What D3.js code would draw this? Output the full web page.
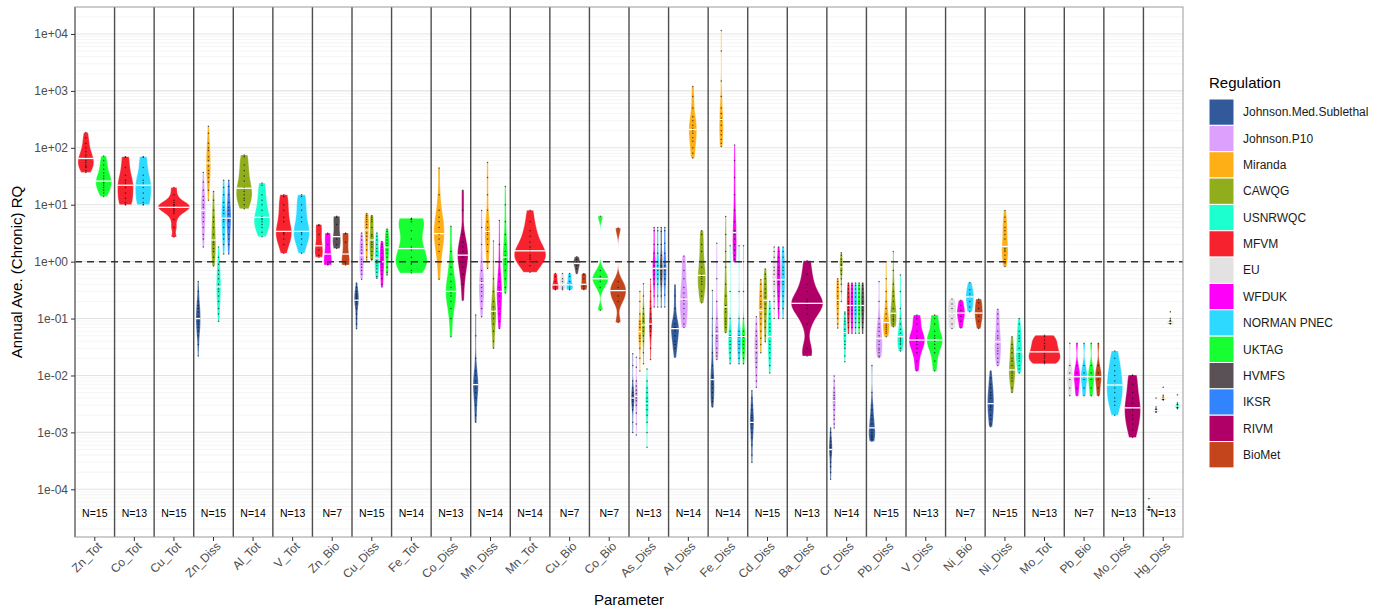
<!DOCTYPE html>
<html>
<head>
<meta charset="utf-8">
<script src="https://cdn.jsdelivr.net/npm/d3@7"></script>
<style>
  body { margin: 0; background: #fff; }
  text { font-family: "Liberation Sans", Arial, sans-serif; }
</style>
</head>
<body>
<script>
// Regulations (legend order) and their colours
const regulations = ["Johnson.Med.Sublethal", "Johnson.P10", "Miranda", "CAWQG", "USNRWQC", "MFVM", "EU",
                     "WFDUK", "NORMAN PNEC", "UKTAG", "HVMFS", "IKSR", "RIVM", "BioMet"];
const regColors = ["#325A9B", "#DEA0FD", "#FEAF16", "#90AD1C", "#1CFFCE", "#F6222E", "#E4E1E3",
                   "#FE00FA", "#2ED9FF", "#16FF32", "#5A5156", "#3283FE", "#B00068", "#C4451C"];

// Parameters on the x axis and number of sites
const categories = ["Zn_Tot", "Co_Tot", "Cu_Tot", "Zn_Diss", "Al_Tot", "V_Tot", "Zn_Bio", "Cu_Diss", "Fe_Tot",
                    "Co_Diss", "Mn_Diss", "Mn_Tot", "Cu_Bio", "Co_Bio", "As_Diss", "Al_Diss", "Fe_Diss", "Cd_Diss",
                    "Ba_Diss", "Cr_Diss", "Pb_Diss", "V_Diss", "Ni_Bio", "Ni_Diss", "Mo_Tot", "Pb_Bio", "Mo_Diss", "Hg_Diss"];
const sampleCounts = [15, 13, 15, 15, 14, 13, 7, 15, 14, 13, 14, 14, 7, 7, 13, 14, 14, 15, 13, 14, 15, 13, 7, 15, 13, 7, 13, 13];

const yTickValues = [1e-4, 1e-3, 1e-2, 1e-1, 1, 1e1, 1e2, 1e3, 1e4];
const yTickLabels = ["1e-04", "1e-03", "1e-02", "1e-01", "1e+00", "1e+01", "1e+02", "1e+03", "1e+04"];

// RQ values per parameter : [regulation, values]
const znTot = [
  ["MFVM", [185, 150, 120, 100, 85, 75, 68, 65, 60, 55, 50, 47, 45, 40, 37]],
  ["UKTAG", [72, 60, 50, 42, 36, 32, 29, 26, 25, 24, 22, 20, 18, 16, 14]]];
const coTot = [
  ["MFVM", [70, 68, 45, 33, 27, 24, 22, 20, 16, 13, 11, 10, 10]],
  ["NORMAN PNEC", [70, 68, 45, 33, 27, 24, 22, 20, 16, 13, 11, 10, 10]]];
const cuTot = [
  ["MFVM", [20, 15, 12, 11, 10, 10, 9.5, 9, 8.5, 8, 7.5, 7, 5.5, 4, 2.7]]];
const znDiss = [
  ["Johnson.Med.Sublethal", [0.45, 0.3, 0.2, 0.17, 0.15, 0.13, 0.11, 0.1, 0.09, 0.08, 0.07, 0.06, 0.05, 0.035, 0.022]],
  ["Johnson.P10", [37, 25, 18, 14, 12, 10, 9, 8, 7, 6, 5, 4, 3, 2.5, 1.8]],
  ["Miranda", [240, 180, 120, 100, 90, 70, 60, 54, 48, 40, 35, 30, 25, 18, 12]],
  ["CAWQG", [17, 12, 8, 6, 5, 4, 3, 2.4, 2.2, 2, 1.7, 1.5, 1.2, 1, 0.84]],
  ["USNRWQC", [1.8, 1.2, 0.9, 0.7, 0.6, 0.5, 0.4, 0.36, 0.33, 0.3, 0.25, 0.2, 0.15, 0.12, 0.09]],
  ["NORMAN PNEC", [27, 20, 15, 11, 9, 8, 7, 5.8, 5.5, 5, 4, 3, 2.5, 2, 1.36]],
  ["IKSR", [27, 21, 15, 11, 9, 8, 6.8, 5.8, 5.4, 5, 4, 3, 2.5, 2, 1.36]]];
const alTot = [
  ["CAWQG", [75, 70, 50, 40, 32, 26, 20, 19, 17, 15, 13, 12, 10, 8.5]],
  ["USNRWQC", [24, 22, 15, 12, 10, 8, 6.2, 5.8, 5.5, 5, 4.5, 4, 3.3, 2.75]]];
const vTot = [
  ["MFVM", [15, 14, 10, 8, 6, 5, 3.4, 3.3, 3.2, 3, 2.5, 2, 1.4]],
  ["NORMAN PNEC", [15, 14, 10, 8, 6, 5, 3.4, 3.3, 3.2, 3, 2.5, 2, 1.4]]];
const znBio = [
  ["MFVM", [4.5, 4.3, 3, 1.9, 1.6, 1.3, 1.2]],
  ["WFDUK", [3.2, 3, 2, 1.36, 1, 0.9, 0.87]],
  ["HVMFS", [6.3, 6, 4.5, 2.75, 2.5, 2, 1.7]],
  ["BioMet", [3.2, 3.1, 2.2, 1.36, 1.0, 0.95, 0.87]]];
const cuDiss = [
  ["Johnson.Med.Sublethal", [0.42, 0.35, 0.3, 0.27, 0.25, 0.23, 0.22, 0.21, 0.2, 0.18, 0.15, 0.12, 0.1, 0.08, 0.066]],
  ["Johnson.P10", [3.2, 2.8, 2.4, 2, 1.8, 1.6, 1.4, 1.3, 1.1, 1, 0.9, 0.8, 0.7, 0.6, 0.49]],
  ["Miranda", [7, 6.5, 6, 5.5, 5, 4.5, 4, 3.6, 3.2, 2.8, 2.4, 2, 1.6, 1.2, 1.07]],
  ["CAWQG", [6.5, 6, 5.5, 5, 4, 3, 2.8, 2.4, 2.2, 2, 1.8, 1.5, 1.3, 1.1, 1.07]],
  ["USNRWQC", [3.2, 2.8, 2.4, 2, 1.7, 1.5, 1.3, 1.15, 1.05, 0.95, 0.85, 0.75, 0.65, 0.55, 0.51]],
  ["WFDUK", [2.25, 2, 1.8, 1.6, 1.4, 1.2, 1.1, 1, 0.9, 0.8, 0.7, 0.6, 0.5, 0.4, 0.36]],
  ["UKTAG", [3.75, 3.4, 3, 2.7, 2.4, 2.1, 1.9, 1.8, 1.6, 1.4, 1.2, 1, 0.8, 0.65, 0.58]]];
const feTot = [
  ["UKTAG", [5.8, 5.6, 5.5, 5, 3.5, 2.5, 1.8, 1.6, 1.2, 1.0, 0.95, 0.9, 0.7, 0.63]]];
const coDiss = [
  ["Miranda", [44, 15, 8, 6, 5, 4, 3.1, 3, 2.5, 2, 1.5, 1, 0.49]],
  ["UKTAG", [4.2, 1.5, 0.8, 0.6, 0.45, 0.35, 0.3, 0.28, 0.25, 0.2, 0.15, 0.1, 0.048]],
  ["RIVM", [18, 8, 3, 2.2, 1.8, 1.5, 1.3, 1.2, 1, 0.8, 0.6, 0.4, 0.21]]];
const mnDiss = [
  ["Johnson.Med.Sublethal", [0.115, 0.05, 0.02, 0.012, 0.01, 0.008, 0.007, 0.0068, 0.006, 0.005, 0.004, 0.003, 0.002, 0.0015]],
  ["Johnson.P10", [7.9, 4, 2, 1, 0.7, 0.5, 0.45, 0.4, 0.35, 0.3, 0.25, 0.2, 0.15, 0.108]],
  ["Miranda", [55, 30, 15, 8, 5, 4, 3.5, 3.3, 3, 2.5, 2, 1.5, 1, 0.76]],
  ["CAWQG", [2.3, 1, 0.5, 0.3, 0.2, 0.16, 0.14, 0.13, 0.12, 0.1, 0.08, 0.06, 0.04, 0.03]],
  ["WFDUK", [5.3, 2, 1, 0.6, 0.45, 0.35, 0.31, 0.29, 0.25, 0.2, 0.15, 0.12, 0.09, 0.067]],
  ["UKTAG", [21, 10, 5, 3, 2, 1.5, 1.3, 1.1, 1.0, 0.9, 0.7, 0.5, 0.35, 0.28]]];
const mnTot = [
  ["MFVM", [8, 5, 3.5, 2.8, 2.2, 1.8, 1.6, 1.5, 1.3, 1.2, 1.1, 1, 0.85, 0.65]]];
const cuBio = [
  ["MFVM", [0.62, 0.55, 0.45, 0.39, 0.36, 0.33, 0.32]],
  ["EU", [0.62, 0.5, 0.45, 0.4, 0.36, 0.34, 0.32]],
  ["NORMAN PNEC", [0.62, 0.55, 0.45, 0.39, 0.36, 0.33, 0.32]],
  ["HVMFS", [1.22, 1.1, 1.0, 0.93, 0.85, 0.75, 0.62]],
  ["BioMet", [0.62, 0.58, 0.5, 0.4, 0.37, 0.34, 0.32]]];
const coBio = [
  ["UKTAG", [6.3, 0.7, 0.55, 0.5, 0.45, 0.35, 0.14]],
  ["BioMet", [3.9, 0.45, 0.35, 0.31, 0.25, 0.2, 0.085]]];
const asDiss = [
  ["Johnson.Med.Sublethal", [0.024, 0.015, 0.008, 0.006, 0.005, 0.0045, 0.004, 0.0038, 0.0035, 0.003, 0.0025, 0.0015, 0.001]],
  ["Johnson.P10", [0.021, 0.014, 0.008, 0.0065, 0.0055, 0.0048, 0.0043, 0.004, 0.0036, 0.003, 0.0022, 0.0014, 0.0009]],
  ["Miranda", [0.3, 0.2, 0.12, 0.09, 0.08, 0.07, 0.059, 0.05, 0.045, 0.04, 0.03, 0.02, 0.012]],
  ["CAWQG", [0.41, 0.25, 0.15, 0.12, 0.1, 0.09, 0.077, 0.07, 0.06, 0.05, 0.04, 0.025, 0.016]],
  ["USNRWQC", [0.013, 0.008, 0.006, 0.005, 0.004, 0.0035, 0.0032, 0.003, 0.0025, 0.002, 0.0015, 0.001, 0.00055]],
  ["MFVM", [0.49, 0.3, 0.2, 0.15, 0.12, 0.1, 0.08, 0.075, 0.07, 0.06, 0.05, 0.03, 0.019]],
  ["WFDUK", [4, 3.5, 2, 1.4, 1, 0.85, 0.76, 0.7, 0.6, 0.5, 0.4, 0.25, 0.16]],
  ["NORMAN PNEC", [4, 3.5, 2, 1.4, 1, 0.85, 0.76, 0.7, 0.6, 0.5, 0.4, 0.25, 0.16]],
  ["HVMFS", [4, 3.4, 2, 1.3, 1, 0.85, 0.75, 0.7, 0.6, 0.5, 0.4, 0.25, 0.16]],
  ["IKSR", [4, 3.5, 2.1, 1.4, 1, 0.85, 0.76, 0.7, 0.6, 0.5, 0.4, 0.26, 0.16]]];
const alDiss = [
  ["Johnson.Med.Sublethal", [0.39, 0.25, 0.15, 0.1, 0.08, 0.07, 0.068, 0.065, 0.06, 0.05, 0.04, 0.035, 0.03, 0.021]],
  ["Johnson.P10", [1.26, 1, 0.7, 0.5, 0.35, 0.28, 0.23, 0.21, 0.18, 0.15, 0.12, 0.1, 0.08, 0.07]],
  ["Miranda", [1200, 800, 500, 350, 300, 250, 220, 200, 180, 150, 130, 100, 80, 66]],
  ["CAWQG", [3.5, 3, 2, 1.5, 1, 0.8, 0.6, 0.55, 0.5, 0.45, 0.4, 0.3, 0.25, 0.19]]];
const feDiss = [
  ["Johnson.Med.Sublethal", [0.31, 0.1, 0.05, 0.025, 0.015, 0.01, 0.009, 0.008, 0.007, 0.006, 0.005, 0.004, 0.0035, 0.0028]],
  ["Johnson.P10", [2.1, 1, 0.5, 0.2, 0.1, 0.07, 0.06, 0.05, 0.045, 0.04, 0.03, 0.025, 0.022, 0.019]],
  ["Miranda", [11500, 5000, 1500, 800, 500, 400, 330, 300, 250, 200, 170, 140, 120, 105]],
  ["CAWQG", [6.2, 3, 1.5, 0.8, 0.4, 0.25, 0.17, 0.15, 0.13, 0.1, 0.09, 0.08, 0.07, 0.057]],
  ["USNRWQC", [1.9, 1, 0.3, 0.1, 0.06, 0.05, 0.05, 0.047, 0.04, 0.035, 0.03, 0.025, 0.02, 0.016]],
  ["WFDUK", [112, 60, 30, 15, 8, 5, 3.5, 3, 2.5, 2, 1.6, 1.3, 1.1, 1.0]],
  ["NORMAN PNEC", [1.9, 1, 0.3, 0.1, 0.06, 0.05, 0.05, 0.047, 0.04, 0.035, 0.03, 0.025, 0.02, 0.016]],
  ["UKTAG", [1.9, 1, 0.3, 0.1, 0.06, 0.05, 0.05, 0.047, 0.04, 0.035, 0.03, 0.025, 0.02, 0.016]]];
const cdDiss = [
  ["Johnson.Med.Sublethal", [0.0054, 0.004, 0.003, 0.0025, 0.002, 0.0018, 0.0016, 0.0015, 0.0014, 0.0012, 0.001, 0.0008, 0.0006, 0.0004, 0.0003]],
  ["Johnson.P10", [0.108, 0.08, 0.06, 0.05, 0.04, 0.035, 0.03, 0.028, 0.025, 0.02, 0.017, 0.014, 0.01, 0.008, 0.0062]],
  ["Miranda", [0.48, 0.4, 0.3, 0.25, 0.2, 0.18, 0.16, 0.14, 0.12, 0.1, 0.08, 0.06, 0.045, 0.035, 0.025]],
  ["CAWQG", [0.74, 0.6, 0.5, 0.4, 0.33, 0.28, 0.24, 0.21, 0.18, 0.15, 0.12, 0.09, 0.07, 0.05, 0.039]],
  ["USNRWQC", [0.2, 0.15, 0.12, 0.1, 0.08, 0.07, 0.06, 0.048, 0.04, 0.035, 0.03, 0.025, 0.02, 0.015, 0.011]],
  ["EU", [1.8, 1.5, 1.2, 1, 0.8, 0.7, 0.6, 0.48, 0.45, 0.4, 0.3, 0.25, 0.2, 0.15, 0.1]],
  ["WFDUK", [1.8, 1.5, 1.2, 1, 0.8, 0.7, 0.6, 0.48, 0.45, 0.4, 0.3, 0.25, 0.2, 0.15, 0.1]],
  ["NORMAN PNEC", [1.8, 1.5, 1.2, 1, 0.8, 0.7, 0.6, 0.48, 0.45, 0.4, 0.3, 0.25, 0.2, 0.15, 0.1]]];
const baDiss = [
  ["RIVM", [1.04, 0.6, 0.4, 0.3, 0.22, 0.2, 0.185, 0.17, 0.15, 0.12, 0.08, 0.03, 0.022]]];
const crDiss = [
  ["Johnson.Med.Sublethal", [0.0012, 0.001, 0.0008, 0.0007, 0.0006, 0.00055, 0.0005, 0.0005, 0.00045, 0.0004, 0.0003, 0.00025, 0.0002, 0.00015]],
  ["Johnson.P10", [0.0098, 0.008, 0.006, 0.005, 0.0045, 0.004, 0.0037, 0.0035, 0.003, 0.0025, 0.002, 0.0017, 0.0014, 0.0012]],
  ["Miranda", [0.5, 0.45, 0.4, 0.35, 0.3, 0.25, 0.22, 0.2, 0.18, 0.15, 0.12, 0.1, 0.08, 0.068]],
  ["CAWQG", [1.44, 1.3, 1.1, 1, 0.9, 0.85, 0.82, 0.8, 0.7, 0.6, 0.5, 0.4, 0.3, 0.2]],
  ["USNRWQC", [0.13, 0.12, 0.1, 0.09, 0.08, 0.065, 0.058, 0.055, 0.05, 0.04, 0.035, 0.03, 0.022, 0.0174]],
  ["MFVM", [0.42, 0.38, 0.33, 0.28, 0.24, 0.2, 0.18, 0.16, 0.14, 0.12, 0.1, 0.085, 0.07, 0.055]],
  ["WFDUK", [0.42, 0.38, 0.33, 0.28, 0.24, 0.2, 0.18, 0.16, 0.14, 0.12, 0.1, 0.085, 0.07, 0.055]],
  ["NORMAN PNEC", [0.42, 0.38, 0.33, 0.28, 0.24, 0.2, 0.18, 0.16, 0.14, 0.12, 0.1, 0.085, 0.07, 0.055]],
  ["UKTAG", [0.42, 0.38, 0.33, 0.28, 0.24, 0.2, 0.18, 0.16, 0.14, 0.12, 0.1, 0.085, 0.07, 0.055]],
  ["HVMFS", [0.42, 0.38, 0.33, 0.28, 0.24, 0.2, 0.18, 0.16, 0.14, 0.12, 0.1, 0.085, 0.07, 0.055]]];
const pbDiss = [
  ["Johnson.Med.Sublethal", [0.015, 0.005, 0.003, 0.0025, 0.002, 0.0017, 0.0014, 0.0012, 0.0011, 0.001, 0.0009, 0.00085, 0.0008, 0.00075, 0.0007]],
  ["Johnson.P10", [0.45, 0.2, 0.1, 0.08, 0.07, 0.06, 0.05, 0.045, 0.04, 0.035, 0.03, 0.028, 0.025, 0.022, 0.021]],
  ["Miranda", [1, 0.5, 0.3, 0.2, 0.15, 0.12, 0.1, 0.085, 0.08, 0.075, 0.07, 0.065, 0.06, 0.055, 0.048]],
  ["CAWQG", [1.5, 0.7, 0.4, 0.3, 0.25, 0.2, 0.15, 0.124, 0.12, 0.11, 0.1, 0.095, 0.09, 0.08, 0.072]],
  ["USNRWQC", [0.58, 0.3, 0.15, 0.1, 0.08, 0.065, 0.055, 0.048, 0.045, 0.042, 0.04, 0.037, 0.035, 0.03, 0.027]]];
const vDiss = [
  ["WFDUK", [0.115, 0.1, 0.08, 0.06, 0.05, 0.045, 0.042, 0.04, 0.035, 0.03, 0.025, 0.018, 0.012]],
  ["UKTAG", [0.115, 0.1, 0.08, 0.06, 0.05, 0.045, 0.042, 0.04, 0.035, 0.03, 0.025, 0.018, 0.012]]];
const niBio = [
  ["EU", [0.22, 0.18, 0.15, 0.124, 0.1, 0.08, 0.067]],
  ["WFDUK", [0.21, 0.17, 0.14, 0.125, 0.11, 0.09, 0.068]],
  ["NORMAN PNEC", [0.43, 0.32, 0.27, 0.24, 0.2, 0.16, 0.132]],
  ["BioMet", [0.22, 0.19, 0.15, 0.125, 0.11, 0.09, 0.067]]];
const niDiss = [
  ["Johnson.Med.Sublethal", [0.012, 0.009, 0.007, 0.006, 0.005, 0.0045, 0.004, 0.0032, 0.003, 0.0028, 0.0025, 0.002, 0.0017, 0.0014, 0.00126]],
  ["Johnson.P10", [0.146, 0.12, 0.1, 0.08, 0.06, 0.05, 0.045, 0.039, 0.035, 0.03, 0.027, 0.024, 0.02, 0.017, 0.015]],
  ["Miranda", [7.9, 6, 5, 4, 3.5, 3, 2.5, 1.85, 1.7, 1.6, 1.5, 1.3, 1.1, 0.95, 0.82]],
  ["CAWQG", [0.048, 0.035, 0.03, 0.025, 0.02, 0.018, 0.015, 0.0125, 0.012, 0.011, 0.01, 0.009, 0.008, 0.006, 0.005]],
  ["USNRWQC", [0.1, 0.08, 0.06, 0.05, 0.045, 0.04, 0.03, 0.026, 0.024, 0.022, 0.02, 0.018, 0.015, 0.013, 0.011]]];
const moTot = [
  ["MFVM", [0.051, 0.048, 0.042, 0.037, 0.033, 0.03, 0.026, 0.024, 0.022, 0.02, 0.018, 0.017, 0.016]]];
const pbBio = [
  ["EU", [0.037, 0.015, 0.011, 0.0095, 0.0085, 0.006, 0.0044]],
  ["WFDUK", [0.037, 0.015, 0.011, 0.0095, 0.0085, 0.006, 0.0044]],
  ["NORMAN PNEC", [0.037, 0.015, 0.011, 0.0095, 0.0085, 0.006, 0.0044]],
  ["UKTAG", [0.037, 0.015, 0.011, 0.0095, 0.0085, 0.006, 0.0044]],
  ["BioMet", [0.037, 0.015, 0.011, 0.0095, 0.0085, 0.006, 0.0044]]];
const moDiss = [
  ["NORMAN PNEC", [0.027, 0.02, 0.015, 0.012, 0.01, 0.008, 0.0068, 0.006, 0.005, 0.004, 0.0035, 0.003, 0.002]],
  ["RIVM", [0.0102, 0.01, 0.007, 0.005, 0.004, 0.0033, 0.0027, 0.0025, 0.002, 0.0017, 0.0014, 0.0011, 0.00081]]];
const hgDiss = [
  ["Johnson.Med.Sublethal", [6.9e-5, 5e-5, 4.8e-5, 4.7e-5, 4.7e-5, 4.6e-5, 4.6e-5, 4.5e-5, 4.5e-5, 4.4e-5, 4.4e-5, 4.3e-5, 4.3e-5]],
  ["Johnson.P10", [0.004, 0.0028, 0.0026, 0.0025, 0.0025, 0.0024, 0.0024, 0.0024, 0.0023, 0.0023, 0.0023, 0.0023, 0.0023]],
  ["Miranda", [0.0062, 0.0045, 0.0042, 0.0041, 0.004, 0.004, 0.004, 0.0039, 0.0039, 0.0039, 0.0038, 0.0038, 0.0037]],
  ["CAWQG", [0.132, 0.1, 0.092, 0.09, 0.088, 0.087, 0.086, 0.085, 0.085, 0.084, 0.083, 0.082, 0.08]],
  ["USNRWQC", [0.0046, 0.0033, 0.0031, 0.003, 0.003, 0.0029, 0.0029, 0.0029, 0.0028, 0.0028, 0.0028, 0.0027, 0.0026]]];

const categorySeries = [znTot, coTot, cuTot, znDiss, alTot, vTot, znBio, cuDiss, feTot, coDiss, mnDiss, mnTot,
                        cuBio, coBio, asDiss, alDiss, feDiss, cdDiss, baDiss, crDiss, pbDiss, vDiss, niBio, niDiss,
                        moTot, pbBio, moDiss, hgDiss];

// Dimensions
var width = 1399, height = 610;
var panel = {left: 75, right: 1183, top: 7, bottom: 537};

var svg = d3.select("body").append("svg")
            .attr("width", width)
            .attr("height", height)
            .style("background", "#fff");

var x = d3.scaleBand().domain(categories).range([panel.left, panel.right]);
var y = d3.scaleLog().domain([1.452e-5, 2.98e4]).range([panel.bottom, panel.top]);
var color = d3.scaleOrdinal().domain(regulations).range(regColors);

// grid : minor lines at 2..9 x 10^k, major lines at decades
var minor = [];
for (var k = -5; k <= 4; k++) {
  for (var m = 2; m <= 9; m++) {
    var v = m * Math.pow(10, k);
    if (v > y.domain()[0] && v < y.domain()[1]) minor.push(v);
  }
}
svg.append("g").selectAll("line").data(minor).join("line")
   .attr("x1", panel.left).attr("x2", panel.right)
   .attr("y1", d => y(d)).attr("y2", d => y(d))
   .attr("stroke", "#eeeeee").attr("stroke-width", 0.6);
svg.append("g").selectAll("line").data(yTickValues).join("line")
   .attr("x1", panel.left).attr("x2", panel.right)
   .attr("y1", d => y(d)).attr("y2", d => y(d))
   .attr("stroke", "#e3e3e3").attr("stroke-width", 1.1);

// Kernel density (gaussian, bw nrd0) on log10 values, trimmed to data range
function kde(values) {
  var logs = values.map(Math.log10).sort(d3.ascending);
  var n = logs.length;
  var sd = d3.deviation(logs);
  var iqr = d3.quantile(logs, 0.75) - d3.quantile(logs, 0.25);
  var lo = Math.min(sd, iqr / 1.34) || sd || 1;
  var bw = 0.9 * lo * Math.pow(n, -0.2);
  var lo0 = logs[0], hi0 = logs[n - 1];
  var pts = d3.range(0, 101).map(i => {
    var t = lo0 + (hi0 - lo0) * i / 100;
    var s = d3.sum(logs, l => Math.exp(-0.5 * Math.pow((t - l) / bw, 2)));
    return {t: t, d: s / (n * bw * Math.sqrt(2 * Math.PI))};
  });
  return {logs: logs, pts: pts};
}

var gViolins = svg.append("g");
var gPoints = svg.append("g");
var gMedian = svg.append("g");

categorySeries.forEach(function(groups, ci) {
  var cat = categories[ci];
  var n = groups.length;
  var band = x.bandwidth();
  var slot = band * 0.9 / n;
  var half = band * 0.8 / n / 2;
  var ordered = groups.slice().sort((a, b) => regulations.indexOf(a[0]) - regulations.indexOf(b[0]));

  ordered.forEach(function(g, gi) {
    var cx = x(cat) + band / 2 + (gi - (n - 1) / 2) * slot;
    var k = kde(g[1]);
    var dmax = d3.max(k.pts, p => p.d);
    var wScale = d3.scaleLinear().domain([0, dmax]).range([0, half]);

    var area = d3.area()
                 .y(p => y(Math.pow(10, p.t)))
                 .x0(p => cx - wScale(p.d))
                 .x1(p => cx + wScale(p.d));

    gViolins.append("path")
            .attr("d", area(k.pts))
            .attr("fill", color(g[0]))
            .attr("stroke", "#ffffff")
            .attr("stroke-opacity", 0.7)
            .attr("stroke-width", 0.5);

    gPoints.selectAll(null).data(g[1]).join("circle")
           .attr("cx", cx)
           .attr("cy", d => y(d))
           .attr("r", 0.75)
           .attr("fill", "#000")
           .attr("fill-opacity", 0.65);

    // median line
    var med = d3.median(k.logs);
    var j = d3.bisector(p => p.t).left(k.pts, med);
    var pA = k.pts[Math.max(0, j - 1)], pB = k.pts[Math.min(k.pts.length - 1, j)];
    var dm = pB.t === pA.t ? pA.d : pA.d + (pB.d - pA.d) * (med - pA.t) / (pB.t - pA.t);
    gMedian.append("line")
           .attr("x1", cx - wScale(dm)).attr("x2", cx + wScale(dm))
           .attr("y1", y(Math.pow(10, med))).attr("y2", y(Math.pow(10, med)))
           .attr("stroke", "#fff").attr("stroke-width", 1.3);
  });
});

// category separators
svg.append("g").selectAll("line").data(categories).join("line")
   .attr("x1", d => x(d)).attr("x2", d => x(d))
   .attr("y1", panel.top).attr("y2", panel.bottom)
   .attr("stroke", "#4d4d4d").attr("stroke-width", 1.4);

// RQ = 1 reference line
svg.append("line")
   .attr("x1", panel.left).attr("x2", panel.right)
   .attr("y1", y(1)).attr("y2", y(1))
   .attr("stroke", "#333").attr("stroke-width", 1.5)
   .attr("stroke-dasharray", "7,5");

// N labels
svg.append("g").selectAll("text").data(categories).join("text")
   .attr("x", d => x(d) + x.bandwidth() / 2)
   .attr("y", 517)
   .attr("text-anchor", "middle")
   .style("font-size", "10.5px")
   .attr("fill", "#000")
   .text((d, i) => "N=" + sampleCounts[i]);

// panel border
svg.append("rect")
   .attr("x", panel.left).attr("y", panel.top)
   .attr("width", panel.right - panel.left).attr("height", panel.bottom - panel.top)
   .attr("fill", "none").attr("stroke", "#9a9a9a").attr("stroke-width", 1);

// Axes
var axeY = d3.axisLeft(y).tickValues(yTickValues).tickFormat((d, i) => yTickLabels[i]).tickSize(4).tickPadding(3);
var groupeY = svg.append("g").attr("transform", "translate(" + panel.left + ",0)").call(axeY);
groupeY.select(".domain").remove();
groupeY.selectAll("line").attr("stroke", "#333");
groupeY.selectAll("text").style("font-size", "12px").attr("fill", "#4d4d4d");

var axeX = d3.axisBottom(x).tickSize(4).tickSizeOuter(0);
var groupeX = svg.append("g").attr("transform", "translate(0," + panel.bottom + ")").call(axeX);
groupeX.select(".domain").remove();
groupeX.selectAll("line").attr("stroke", "#333");
groupeX.selectAll("text")
       .style("font-size", "12px").attr("fill", "#4d4d4d")
       .attr("text-anchor", "end")
       .attr("dy", "0.7em")
       .attr("transform", "translate(2,4) rotate(-45)")
       .attr("y", 0).attr("x", 0);

// Axis titles
svg.append("text")
   .attr("x", (panel.left + panel.right) / 2).attr("y", 605)
   .attr("text-anchor", "middle").style("font-size", "15px").attr("fill", "#000")
   .text("Parameter");
svg.append("text")
   .attr("transform", "translate(22," + (panel.top + panel.bottom) / 2 + ") rotate(-90)")
   .attr("text-anchor", "middle").style("font-size", "15px").attr("fill", "#000")
   .text("Annual Ave. (Chronic) RQ");

// Legend
var legend = svg.append("g").attr("transform", "translate(1209,99)");
legend.append("text").attr("x", 0).attr("y", -11)
      .style("font-size", "15px").attr("fill", "#000").text("Regulation");
var keyH = 26.35;
var item = legend.selectAll("g").data(regulations).join("g")
                 .attr("transform", (d, i) => "translate(0," + (i * keyH) + ")");
item.append("rect").attr("width", 25).attr("height", keyH)
    .attr("fill", d => color(d)).attr("stroke", "#fff").attr("stroke-width", 1);
item.append("text").attr("x", 34).attr("y", keyH / 2).attr("dy", "0.35em")
    .style("font-size", "12px").attr("fill", "#1a1a1a").text(d => d);
</script>
</body>
</html>
